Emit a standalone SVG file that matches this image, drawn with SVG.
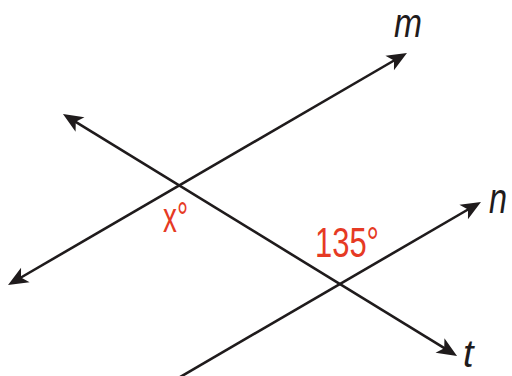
<svg xmlns="http://www.w3.org/2000/svg" width="512" height="376" viewBox="0 0 512 376">
  <style>
    .ln { stroke: #1f1b1c; stroke-width: 2.6; fill: none; }
    .lbl { font-family: "Liberation Sans", Arial, sans-serif; font-style: italic; fill: #1f1b1c; }
    .ang { font-family: "Liberation Sans", Arial, sans-serif; fill: #e63a24; }
  </style>
  <defs>
    <marker id="arr" markerUnits="userSpaceOnUse" viewBox="-10 -10 24 20" refX="0" refY="0" markerWidth="24" markerHeight="20" orient="auto-start-reverse">
      <path d="M12,0 L-8,-8.5 L-3,0 L-8,8.5 Z" fill="#1f1b1c"/>
    </marker>
  </defs>
  <rect width="512" height="376" fill="#ffffff"/>
  <g id="connectors">
    <line id="line-m" class="ln" x1="18.4" y1="279.0" x2="396.6" y2="59.0" marker-start="url(#arr)" marker-end="url(#arr)"/>
    <line id="line-t" class="ln" x1="73.2" y1="120.3" x2="446.8" y2="349.7" marker-start="url(#arr)" marker-end="url(#arr)"/>
    <line id="line-n" class="ln" x1="175" y1="380" x2="470.6" y2="208.0" marker-end="url(#arr)"/>
  </g>
  <g id="label-m"><text class="lbl" x="394" y="37" font-size="40" textLength="28" lengthAdjust="spacingAndGlyphs">m</text></g>
  <g id="label-n"><text class="lbl" x="489" y="213" font-size="42" textLength="18" lengthAdjust="spacingAndGlyphs">n</text></g>
  <g id="label-t"><text class="lbl" x="463" y="367" font-size="38">t</text></g>
  <g id="angle-x"><text class="ang" x="163" y="232" font-size="42" textLength="25" lengthAdjust="spacingAndGlyphs">x°</text></g>
  <g id="angle-135"><text class="ang" x="315" y="257" font-size="43" textLength="64" lengthAdjust="spacingAndGlyphs">135°</text></g>
</svg>
